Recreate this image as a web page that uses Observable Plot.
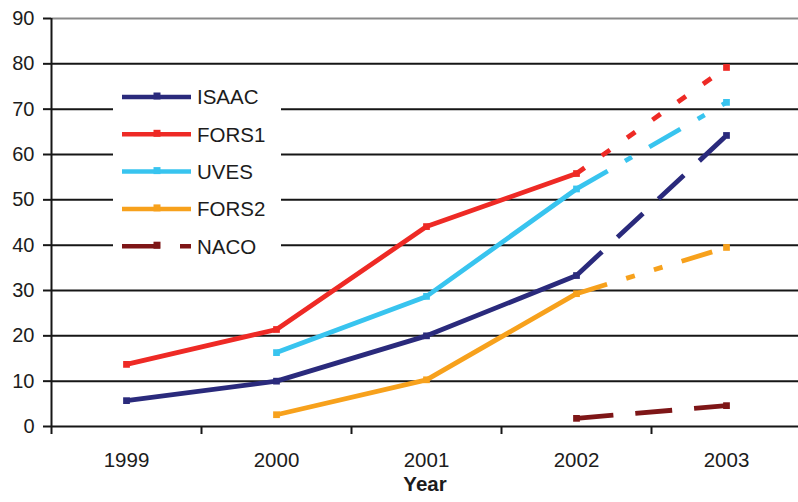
<!DOCTYPE html>
<html>
<head>
<meta charset="utf-8">
<script src="https://cdn.jsdelivr.net/npm/d3@7"></script>
<script src="https://cdn.jsdelivr.net/npm/@observablehq/plot@0.6"></script>
<style>
  html, body { margin: 0; padding: 0; background: #fff; }
  #chart { width: 798px; height: 502px; overflow: hidden; }
</style>
</head>
<body>
<div id="chart"></div>
<script>
// ---- data ----
const years = [1999, 2000, 2001, 2002, 2003];
const seriesNames = ["ISAAC", "FORS1", "UVES", "FORS2", "NACO"];
const isaac = [5.7, 10, 20, 33.3, 64.2];
const fors1 = [13.7, 21.4, 44.1, 55.8, 79.2];
const uves  = [null, 16.3, 28.7, 52.4, 71.5];
const fors2 = [null, 2.6, 10.3, 29.3, 39.5];
const naco  = [null, null, null, 1.8, 4.6];
const yTicks = [0, 10, 20, 30, 40, 50, 60, 70, 80, 90];
const xLabels = ["1999", "2000", "2001", "2002", "2003"];
const xLabel = "Year";
const lastActualYear = 2002;

// ---- styles (not data) ----
const styles = {
  ISAAC: {color: "#2a2a7c", dash: "35,21"},
  FORS1: {color: "#ee2a25", dash: "10,21"},
  UVES:  {color: "#38c4ef", dash: "36,20,8,20"},
  FORS2: {color: "#f7a11c", dash: "32,20,9,20,9,20"},
  NACO:  {color: "#7e1617", dash: "37,22"}
};
const valuesBySeries = {ISAAC: isaac, FORS1: fors1, UVES: uves, FORS2: fors2, NACO: naco};

const rows = [];
for (const name of seriesNames) {
  valuesBySeries[name].forEach((v, i) => {
    if (v != null) rows.push({series: name, year: years[i], value: v});
  });
}

const textColor = "#1c1c1c";
const marks = [];
// gridlines
marks.push(Plot.ruleY(yTicks, {stroke: d => d === 90 ? "#8a8a8a" : "#161616", strokeWidth: 2}));
// y axis line
marks.push(Plot.ruleX([years[0] - 0.5], {y1: 0, y2: 90, stroke: "#161616", strokeWidth: 2}));
// axes
marks.push(Plot.axisY({ticks: yTicks, tickSize: 8, tickPadding: 9, fontSize: 20, fill: textColor, stroke: "#161616", strokeWidth: 2, label: null}));
marks.push(Plot.axisX({ticks: [1998.5, 1999.5, 2000.5, 2001.5, 2002.5], tickSize: 8, tickFormat: () => "", stroke: "#161616", strokeWidth: 2, label: null}));
marks.push(Plot.axisX({ticks: years, tickSize: 0, tickPadding: 26, fontSize: 20.5, fill: textColor, tickFormat: d => xLabels[years.indexOf(d)], label: null}));
marks.push(Plot.text([xLabel], {frameAnchor: "bottom", dy: 64, fontSize: 20.5, fontWeight: "bold", fill: textColor}));

for (const name of seriesNames) {
  const st = styles[name];
  const pts = rows.filter(r => r.series === name);
  const solid = pts.filter(r => r.year <= lastActualYear);
  const proj = pts.filter(r => r.year >= lastActualYear);
  if (name !== "NACO" && solid.length > 1) {
    marks.push(Plot.lineY(solid, {x: "year", y: "value", stroke: st.color, strokeWidth: 4.8, strokeLinejoin: "round"}));
  }
  marks.push(Plot.lineY(proj, {x: "year", y: "value", stroke: st.color, strokeWidth: 4.8, strokeDasharray: st.dash, strokeLinecap: "butt"}));
  marks.push(Plot.dot(pts, {x: "year", y: "value", symbol: "square", r: 3.8, fill: st.color, stroke: "none"}));
}

const chart = Plot.plot({
  width: 798,
  height: 502,
  marginTop: 18,
  marginBottom: 76,
  marginLeft: 51,
  marginRight: 0,
  style: {fontFamily: "'Liberation Sans', Arial, sans-serif", background: "#fff", overflow: "visible"},
  x: {type: "linear", domain: [1998.5, 2003.5], range: [51, 801]},
  y: {domain: [0, 90]},
  marks
});
document.getElementById("chart").appendChild(chart);

// legend inside the plot area
const svg = d3.select(chart);
const lg = svg.append("g").attr("font-family", "'Liberation Sans', Arial, sans-serif").attr("text-anchor", "start");
lg.append("rect").attr("x", 113).attr("y", 70).attr("width", 168).attr("height", 197).attr("fill", "#fff");
seriesNames.forEach((name, i) => {
  const st = styles[name];
  const y = 97 + i * 37.3;
  const line = lg.append("line").attr("x1", 122).attr("x2", 191).attr("y1", y).attr("y2", y)
    .attr("stroke", st.color).attr("stroke-width", 4.5);
  if (name === "NACO") line.attr("stroke-dasharray", "38,20");
  lg.append("rect").attr("x", 153.5).attr("y", y - 4.5).attr("width", 7).attr("height", 7).attr("fill", st.color);
  lg.append("text").attr("x", 197).attr("y", y).attr("dy", "0.36em").attr("font-size", 20.5)
    .attr("text-anchor", "start").attr("fill", textColor).text(name);
});
</script>
</body>
</html>
